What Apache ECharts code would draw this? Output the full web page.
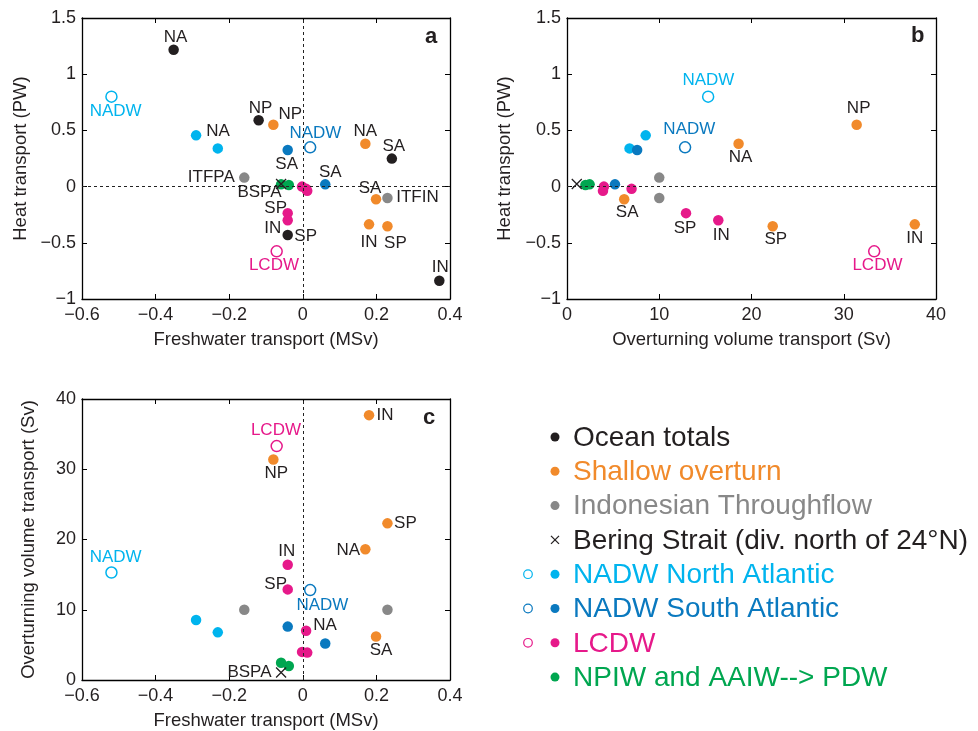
<!DOCTYPE html>
<html>
<head>
<meta charset="utf-8">
<title>Ocean heat, freshwater and overturning transports</title>
<script src="https://cdn.jsdelivr.net/npm/echarts@6/dist/echarts.min.js"></script>
<style>
  html, body { margin: 0; padding: 0; background: #fff; }
  #chart { width: 978px; height: 731px; }
</style>
</head>
<body>
<div id="chart"></div>
<script>
// ---------------- data ----------------
// Freshwater transport (MSv), heat transport (PW), overturning volume transport (Sv)

// Ocean totals (no overturning volume)
const oceanNames = ['NA', 'NP', 'SA', 'SP', 'IN'];
const oceanFw    = [-0.351, -0.120, 0.242, -0.041, 0.371];
const oceanHeat  = [1.218, 0.590, 0.249, -0.431, -0.837];

// Shallow overturn
const shallowNames = ['NP', 'NA', 'SA', 'IN', 'SP'];
const shallowFw    = [-0.080, 0.170, 0.199, 0.180, 0.230];
const shallowHeat  = [0.551, 0.382, -0.113, -0.336, -0.353];
const shallowVol   = [31.4, 18.6, 6.2, 37.7, 22.3];

// Indonesian Throughflow
const itfNames = ['ITFPA', 'ITFIN'];
const itfFw    = [-0.159, 0.230];
const itfHeat  = [0.080, -0.101];
const itfVol   = [10.0, 10.0];

// Bering Strait
const beringNames = ['BSPA'];
const beringFw    = [-0.059];
const beringHeat  = [0.023];
const beringVol   = [1.06];

// NADW North Atlantic: total (open) and components (filled)
const nadwNTotalNames = ['NADW'];
const nadwNTotalFw    = [-0.520];
const nadwNTotalHeat  = [0.800];
const nadwNTotalVol   = [15.3];
const nadwNNames = ['NA', ''];
const nadwNFw    = [-0.290, -0.231];
const nadwNHeat  = [0.456, 0.340];
const nadwNVol   = [8.53, 6.78];

// NADW South Atlantic
const nadwSTotalNames = ['NADW'];
const nadwSTotalFw    = [0.020];
const nadwSTotalHeat  = [0.349];
const nadwSTotalVol   = [12.8];
const nadwSNames = ['SA', 'SA'];
const nadwSFw    = [-0.041, 0.061];
const nadwSHeat  = [0.326, 0.020];
const nadwSVol   = [7.6, 5.2];

// LCDW
const lcdwTotalNames = ['LCDW'];
const lcdwTotalFw    = [-0.071];
const lcdwTotalHeat  = [-0.576];
const lcdwTotalVol   = [33.3];
const lcdwNames = ['SP', 'IN', 'NA', '', ''];
const lcdwFw    = [-0.041, -0.041, 0.009, -0.002, 0.012];
const lcdwHeat  = [-0.236, -0.300, -0.020, 0.000, -0.038];
const lcdwVol   = [12.9, 16.4, 7.0, 4.0, 3.9];

// NPIW and AAIW --> PDW
const pdwNames = ['', ''];
const pdwFw    = [-0.059, -0.038];
const pdwHeat  = [0.020, 0.015];
const pdwVol   = [2.45, 2.0];

// Axis ticks
const fwTicks   = [-0.6, 0.4, 0.2];   // min, max, step
const heatTicks = [-1, 1.5, 0.5];
const volTicks  = [0, 40, 10];

const legendLabels = [
  'Ocean totals', 'Shallow overturn', 'Indonesian Throughflow',
  'Bering Strait (div. north of 24\u00b0N)', 'NADW North Atlantic',
  'NADW South Atlantic', 'LCDW', 'NPIW and AAIW--> PDW'
];

// ---------------- styling ----------------
const FONT = '"Liberation Sans", Arial, Helvetica, sans-serif';
const INK = '#231f20';
const COL = {
  ocean: '#231f20', shallow: '#f18a2b', itf: '#888888', bering: '#231f20',
  nadwN: '#00b4ee', nadwS: '#0a79bf', lcdw: '#e6198a', pdw: '#00a650'
};
const SIZE = { dot: 10.5, ring: 11, x: 10 };

const groups = [
  { key: 'itf',     color: COL.itf,     kind: 'dot',  names: itfNames,     fw: itfFw,     heat: itfHeat,     vol: itfVol },
  { key: 'ocean',   color: COL.ocean,   kind: 'dot',  names: oceanNames,   fw: oceanFw,   heat: oceanHeat,   vol: null },
  { key: 'shallow', color: COL.shallow, kind: 'dot',  names: shallowNames, fw: shallowFw, heat: shallowHeat, vol: shallowVol },
  { key: 'nadwN',   color: COL.nadwN,   kind: 'dot',  names: nadwNNames,   fw: nadwNFw,   heat: nadwNHeat,   vol: nadwNVol },
  { key: 'nadwNT',  color: COL.nadwN,   kind: 'ring', names: nadwNTotalNames, fw: nadwNTotalFw, heat: nadwNTotalHeat, vol: nadwNTotalVol },
  { key: 'nadwS',   color: COL.nadwS,   kind: 'dot',  names: nadwSNames,   fw: nadwSFw,   heat: nadwSHeat,   vol: nadwSVol },
  { key: 'nadwST',  color: COL.nadwS,   kind: 'ring', names: nadwSTotalNames, fw: nadwSTotalFw, heat: nadwSTotalHeat, vol: nadwSTotalVol },
  { key: 'lcdw',    color: COL.lcdw,    kind: 'dot',  names: lcdwNames,    fw: lcdwFw,    heat: lcdwHeat,    vol: lcdwVol },
  { key: 'lcdwT',   color: COL.lcdw,    kind: 'ring', names: lcdwTotalNames, fw: lcdwTotalFw, heat: lcdwTotalHeat, vol: lcdwTotalVol },
  { key: 'pdw',     color: COL.pdw,     kind: 'dot',  names: pdwNames,     fw: pdwFw,     heat: pdwHeat,     vol: pdwVol },
  { key: 'bering',  color: COL.bering,  kind: 'x',    names: beringNames,  fw: beringFw,  heat: beringHeat,  vol: beringVol }
];

// Label placement per panel: 'group:index' -> [dx, dy] from the marker centre
const labelPlacement = [
  { // a
    'ocean:0': [2, -12], 'ocean:1': [2, -12], 'ocean:2': [2, -12], 'ocean:3': [18, 1], 'ocean:4': [1, -13],
    'shallow:0': [17, -10], 'shallow:1': [0, -12], 'shallow:2': [-6, -11], 'shallow:3': [0, 18], 'shallow:4': [8, 17],
    'itf:0': [-33, 0], 'itf:1': [30, -1],
    'bering:0': [-21, 9],
    'nadwNT:0': [5, 15], 'nadwN:0': [22, -4],
    'nadwST:0': [6, -13], 'nadwS:0': [-1, 14], 'nadwS:1': [5, -12],
    'lcdwT:0': [-2, 15], 'lcdw:0': [-12, -5], 'lcdw:1': [-15, 8]
  },
  { // b
    'shallow:0': [2, -16], 'shallow:1': [2, 14], 'shallow:2': [3, 13], 'shallow:3': [0, 14], 'shallow:4': [3, 13],
    'nadwNT:0': [1, -16], 'nadwST:0': [5, -17],
    'lcdw:0': [-1, 15], 'lcdw:1': [3, 15], 'lcdwT:0': [4, 15]
  },
  { // c
    'shallow:0': [3, 14], 'shallow:1': [-17, 1], 'shallow:2': [5, 14], 'shallow:3': [16, 0], 'shallow:4': [18, 0],
    'bering:0': [-31, 0],
    'nadwNT:0': [5, -14], 'nadwST:0': [13, 16],
    'lcdwT:0': [0, -15], 'lcdw:0': [-12, -5], 'lcdw:1': [-1, -13], 'lcdw:2': [19, -6]
  }
];

// panel layout: grid box and which variables go on x / y
const panels = [
  { grid: { left: 82, top: 18, width: 368, height: 281 }, x: 'fw',  y: 'heat', letter: 'a',
    xTicks: fwTicks,  yTicks: heatTicks, xName: 'Freshwater transport (MSv)', yName: 'Heat transport (PW)', yGap: 52, zeroX: true,  zeroY: true },
  { grid: { left: 567, top: 18, width: 369, height: 281 }, x: 'vol', y: 'heat', letter: 'b',
    xTicks: volTicks, yTicks: heatTicks, xName: 'Overturning volume transport (Sv)', yName: 'Heat transport (PW)', yGap: 53, zeroX: false, zeroY: true },
  { grid: { left: 82, top: 399, width: 368, height: 281 }, x: 'fw',  y: 'vol', letter: 'c',
    xTicks: fwTicks,  yTicks: volTicks, xName: 'Freshwater transport (MSv)', yName: 'Overturning volume transport (Sv)', yGap: 44, zeroX: true, zeroY: false }
];

const minus = v => String(Math.round(v * 1000) / 1000).replace('-', '\u2212');

function axisPair(p, idx, dim) {
  const t = dim === 'x' ? p.xTicks : p.yTicks;
  const common = {
    type: 'value', gridIndex: idx, min: t[0], max: t[1], interval: t[2],
    splitLine: { show: false },
    axisLine: { show: true, onZero: false, lineStyle: { color: '#000', width: 1.3 } },
    axisTick: { show: true, inside: true, length: 5, lineStyle: { color: '#000', width: 1 } }
  };
  const main = Object.assign({}, common, {
    position: dim === 'x' ? 'bottom' : 'left',
    name: dim === 'x' ? p.xName : p.yName,
    nameLocation: 'middle',
    nameGap: dim === 'x' ? 31 : p.yGap,
    nameTextStyle: { fontFamily: FONT, fontSize: 18.5, color: INK },
    axisLabel: {
      show: true, showMinLabel: true, showMaxLabel: true,
      margin: dim === 'x' ? 7 : 6,
      fontFamily: FONT, fontSize: 18, color: INK, formatter: minus
    }
  });
  const mirror = Object.assign({}, common, {
    position: dim === 'x' ? 'top' : 'right',
    axisLabel: { show: false }
  });
  return [main, mirror];
}

const xAxes = [], yAxes = [], grids = [], series = [];

panels.forEach((p, pi) => {
  grids.push(Object.assign({ containLabel: false }, p.grid));
  xAxes.push(...axisPair(p, pi, 'x'));
  yAxes.push(...axisPair(p, pi, 'y'));

  let first = true;
  groups.forEach(g => {
    const xs = g[p.x], ys = g[p.y];
    if (!xs || !ys) return;
    const place = labelPlacement[pi];
    const half = SIZE[g.kind] / 2;
    const data = g.names.map((name, i) => {
      const off = place[g.key + ':' + i];
      const item = { value: [xs[i], ys[i]], name: name };
      if (off && name) {
        item.label = {
          show: true,
          // position is measured from the symbol's top-left corner
          position: [half + off[0], half + off[1]],
          align: 'center', verticalAlign: 'middle',
          formatter: name,
          fontFamily: FONT, fontSize: 17,
          color: g.kind === 'ring' ? g.color : INK
        };
      }
      return item;
    });
    const s = {
      type: 'scatter', xAxisIndex: pi * 2, yAxisIndex: pi * 2,
      data: data, silent: true, animation: false,
      label: { show: false, fontFamily: FONT, fontSize: 17 }
    };
    if (g.kind === 'dot') {
      s.symbol = 'circle'; s.symbolSize = SIZE.dot;
      s.itemStyle = { color: g.color, borderWidth: 0, opacity: 1 };
    } else if (g.kind === 'ring') {
      s.symbol = 'circle'; s.symbolSize = SIZE.ring;
      s.itemStyle = { color: 'rgba(255,255,255,0)', borderColor: g.color, borderWidth: 1.5, opacity: 1 };
    } else {
      s.symbol = 'path://M0,0L10,10M10,0L0,10'; s.symbolSize = SIZE.x;
      s.itemStyle = { color: 'rgba(0,0,0,0)', borderColor: g.color, borderWidth: 1.3, opacity: 1 };
    }
    if (first) {
      const lines = [];
      if (p.zeroX) lines.push({ xAxis: 0 });
      if (p.zeroY) lines.push({ yAxis: 0 });
      s.markLine = {
        silent: true, symbol: 'none', animation: false,
        label: { show: false },
        lineStyle: { type: [3, 3], color: '#222', width: 1, opacity: 1 },
        data: lines
      };
      first = false;
    }
    series.push(s);
  });
});

// panel letters and legend
const graphics = [];
const letterPos = [[432, 39], [918, 38], [430, 420]];
panels.forEach((p, i) => {
  graphics.push({
    type: 'text', left: letterPos[i][0] - 7, top: letterPos[i][1] - 13,
    style: { text: p.letter, font: 'bold 22px ' + FONT, fill: INK }
  });
});

const legendMarks = [
  { color: COL.ocean, kind: 'dot' }, { color: COL.shallow, kind: 'dot' },
  { color: COL.itf, kind: 'dot' }, { color: COL.bering, kind: 'x' },
  { color: COL.nadwN, kind: 'both' }, { color: COL.nadwS, kind: 'both' },
  { color: COL.lcdw, kind: 'both' }, { color: COL.pdw, kind: 'dot' }
];
const legendTextColor = [INK, COL.shallow, COL.itf, INK, COL.nadwN, COL.nadwS, COL.lcdw, COL.pdw];
legendLabels.forEach((txt, i) => {
  const y = 437 + i * 34.3;
  const m = legendMarks[i];
  if (m.kind === 'dot' || m.kind === 'both') {
    graphics.push({ type: 'circle', shape: { cx: 555, cy: y, r: 4.5 }, style: { fill: m.color } });
  }
  if (m.kind === 'both') {
    graphics.push({ type: 'circle', shape: { cx: 528, cy: y, r: 4.3 }, style: { fill: 'none', stroke: m.color, lineWidth: 1.2 } });
  }
  if (m.kind === 'x') {
    graphics.push({ type: 'line', shape: { x1: 551, y1: y - 4, x2: 559, y2: y + 4 }, style: { stroke: m.color, lineWidth: 1.3 } });
    graphics.push({ type: 'line', shape: { x1: 559, y1: y - 4, x2: 551, y2: y + 4 }, style: { stroke: m.color, lineWidth: 1.3 } });
  }
  graphics.push({
    type: 'text', x: 573, y: y + 1,
    style: { text: txt, font: '28px ' + FONT, fill: legendTextColor[i], textVerticalAlign: 'middle', verticalAlign: 'middle' }
  });
});

const chart = echarts.init(document.getElementById('chart'), null, { renderer: 'canvas' });
chart.setOption({
  animation: false,
  backgroundColor: '#fff',
  textStyle: { fontFamily: FONT },
  grid: grids,
  xAxis: xAxes,
  yAxis: yAxes,
  series: series,
  graphic: graphics
});
</script>
</body>
</html>
